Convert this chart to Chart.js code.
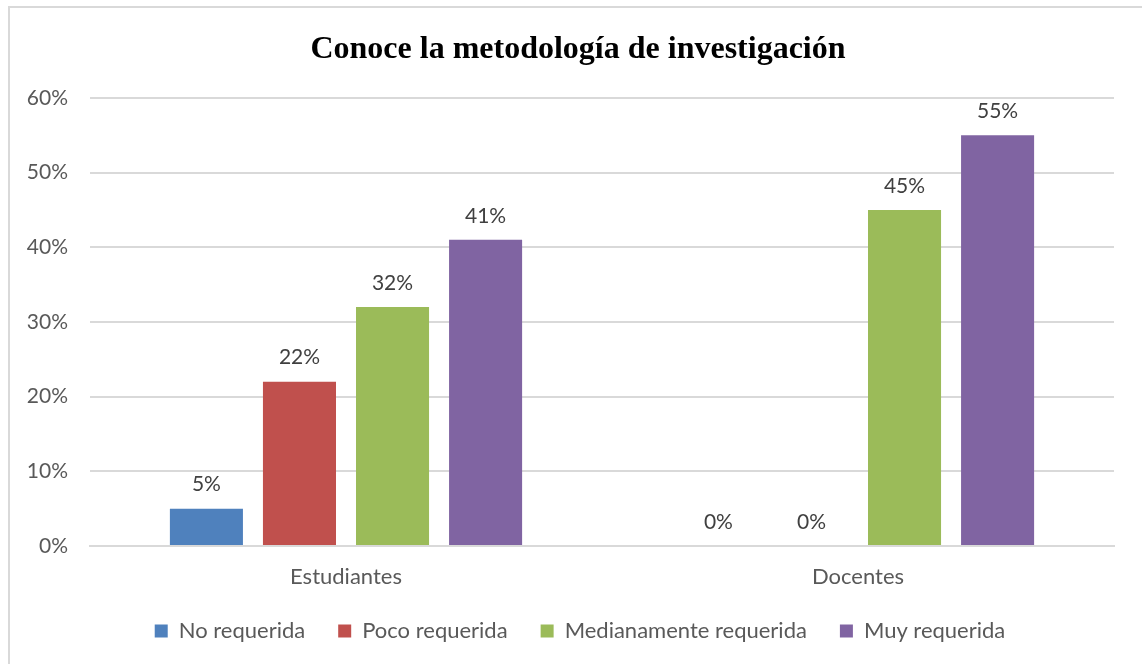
<!DOCTYPE html>
<html>
<head>
<meta charset="utf-8">
<script src="https://cdn.jsdelivr.net/npm/chart.js@4"></script>
<style>
  html, body { margin: 0; padding: 0; background: #fff; }
  #frame { position: absolute; left: 8px; top: 6px; width: 1160px; height: 700px; border: 2px solid #d9d9d9; box-sizing: border-box; }
  #wrap { position: absolute; left: 0; top: 0; width: 1142px; height: 664px; }
</style>
</head>
<body>
<div id="frame"></div>
<div id="wrap"><canvas id="myChart" width="1142" height="664"></canvas></div>
<script>
const categories = ["Estudiantes", "Docentes"];
const seriesNames = ["No requerida", "Poco requerida", "Medianamente requerida", "Muy requerida"];
const noRequerida = [5, 0];
const pocoRequerida = [22, 0];
const medianamenteRequerida = [32, 45];
const muyRequerida = [41, 55];
const seriesColors = ["#4F81BD", "#C0504D", "#9BBB59", "#8064A2"];
const yTicks = [0, 10, 20, 30, 40, 50, 60];

const baseFont = "Lato, 'Open Sans', sans-serif";

// draws the value above each bar
const valueLabels = {
  id: "valueLabels",
  afterDatasetsDraw(chart) {
    const ctx = chart.ctx;
    ctx.save();
    ctx.font = "21px " + baseFont;
    ctx.fillStyle = "#404040";
    ctx.textAlign = "center";
    ctx.textBaseline = "middle";
    chart.data.datasets.forEach((ds, i) => {
      chart.getDatasetMeta(i).data.forEach((bar, j) => {
        ctx.fillText(ds.data[j] + "%", bar.x, bar.y - 24);
      });
    });
    ctx.restore();
  },
};

// title and legend sit a bit right of the canvas centre in the original
const shiftBoxes = {
  id: "shiftBoxes",
  afterLayout(chart) {
    chart.legend.left += 23;
    chart.legend.right += 23;
    chart.titleBlock.left += 21;
    chart.titleBlock.right += 21;
  },
};

const allValues = [noRequerida, pocoRequerida, medianamenteRequerida, muyRequerida];

const ctx = document.getElementById("myChart").getContext("2d");
const myChart = new Chart(ctx, {
  type: "bar",
  data: {
    labels: categories,
    datasets: seriesNames.map((name, i) => ({
      label: name,
      data: allValues[i],
      backgroundColor: seriesColors[i],
      borderWidth: 0,
      categoryPercentage: 0.727,
      barPercentage: 0.785,
    })),
  },
  options: {
    responsive: false,
    animation: false,
    layout: { padding: { left: 0, right: 28, top: 0, bottom: 12 } },
    plugins: {
      title: {
        display: true,
        text: "Conoce la metodología de investigación",
        color: "#000",
        font: { family: "'Liberation Serif', 'Times New Roman', serif", size: 32, weight: "bold" },
        padding: { top: 30.5, bottom: 29.1 },
      },
      legend: {
        position: "bottom",
        labels: {
          color: "#595959",
          font: { family: baseFont, size: 22 },
          boxWidth: 13,
          boxHeight: 13,
          padding: 33,
        },
      },
      tooltip: { enabled: false },
    },
    scales: {
      x: {
        afterFit(scale) { scale.height = 41; },
        grid: { display: false, drawTicks: false },
        border: { color: "#d9d9d9", width: 2 },
        ticks: { color: "#595959", font: { family: baseFont, size: 22 }, padding: 18 },
      },
      y: {
        min: 0,
        max: 60,
        afterFit(scale) { scale.width = 90; },
        afterBuildTicks(scale) { scale.ticks = yTicks.map(v => ({ value: v })); },
        grid: { color: "#d9d9d9", lineWidth: 2, drawTicks: false },
        border: { display: false },
        ticks: {
          color: "#595959",
          font: { family: baseFont, size: 21 },
          padding: 22,
          callback: v => v + "%",
        },
      },
    },
  },
  plugins: [valueLabels, shiftBoxes],
});
</script>
</body>
</html>
